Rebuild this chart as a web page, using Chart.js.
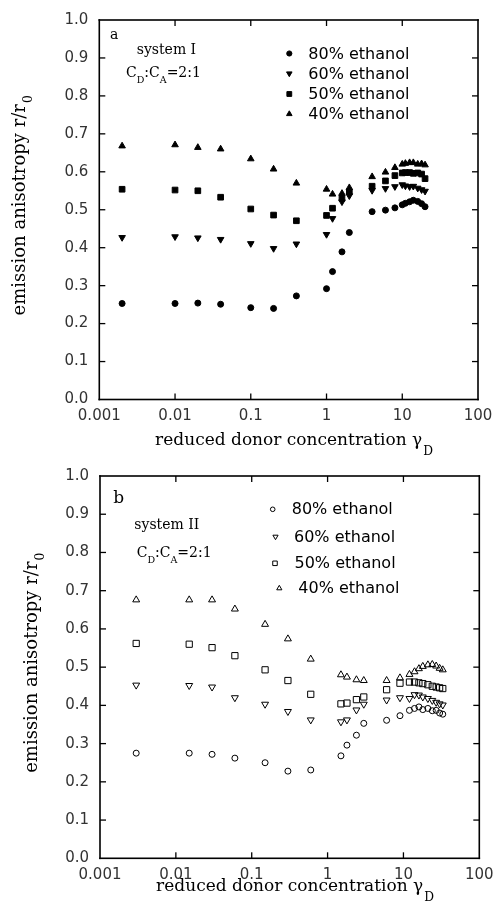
<!DOCTYPE html>
<html><head><meta charset="utf-8">
<script src="https://cdn.jsdelivr.net/npm/chart.js"></script>
<style>
html,body{margin:0;padding:0;background:#fff;width:493px;height:909px;overflow:hidden}
canvas{position:absolute;left:0}
#ca{top:0}
#cb{top:455px}
</style></head><body>
<canvas id="ca" width="493" height="455"></canvas>
<canvas id="cb" width="493" height="454"></canvas>
<script>
// ---------- data ----------
const X_TICKS = [0.001, 0.01, 0.1, 1, 10, 100];
const X_TICK_LABELS = ['0.001', '0.01', '0.1', '1', '10', '100'];
const Y_TICKS = [0, 0.1, 0.2, 0.3, 0.4, 0.5, 0.6, 0.7, 0.8, 0.9, 1.0];
const LEGEND_LABELS = ['80% ethanol', '60% ethanol', '50% ethanol', '40% ethanol'];

// panel a (system I)
const X_A = [0.002, 0.01, 0.02, 0.04, 0.1, 0.2, 0.4, 1, 1.2, 1.6, 2, 4, 6, 8, 10, 11, 12.5, 14, 16, 18, 20];
const A80 = [0.253, 0.253, 0.254, 0.251, 0.242, 0.240, 0.273, 0.292, 0.337, 0.389, 0.440, 0.495, 0.499, 0.505, 0.513, 0.517, 0.521, 0.525, 0.522, 0.516, 0.508];
const A60 = [0.427, 0.429, 0.426, 0.422, 0.411, 0.398, 0.410, 0.435, 0.477, 0.521, 0.537, 0.551, 0.556, 0.561, 0.566, 0.563, 0.561, 0.562, 0.557, 0.553, 0.549];
const A50 = [0.554, 0.552, 0.550, 0.533, 0.502, 0.486, 0.471, 0.485, 0.504, 0.530, 0.547, 0.562, 0.576, 0.590, 0.597, 0.598, 0.598, 0.596, 0.597, 0.594, 0.582];
const A40 = [0.668, 0.671, 0.664, 0.660, 0.634, 0.607, 0.570, 0.554, 0.541, 0.543, 0.558, 0.587, 0.599, 0.611, 0.620, 0.622, 0.624, 0.624, 0.620, 0.621, 0.618];

// panel b (system II)
const X_B = [0.003, 0.015, 0.03, 0.06, 0.15, 0.3, 0.6, 1.5, 1.8, 2.4, 3, 6, 9, 12, 14, 16, 18, 21, 24, 27, 30, 33];
const B80 = [0.275, 0.275, 0.272, 0.262, 0.250, 0.228, 0.231, 0.268, 0.296, 0.322, 0.353, 0.361, 0.373, 0.387, 0.392, 0.396, 0.389, 0.392, 0.386, 0.387, 0.380, 0.377];
const B60 = [0.453, 0.452, 0.448, 0.420, 0.403, 0.384, 0.362, 0.357, 0.362, 0.388, 0.403, 0.414, 0.420, 0.418, 0.428, 0.427, 0.422, 0.418, 0.413, 0.408, 0.404, 0.401];
const B50 = [0.562, 0.560, 0.551, 0.530, 0.493, 0.465, 0.429, 0.404, 0.406, 0.415, 0.422, 0.441, 0.458, 0.461, 0.461, 0.459, 0.457, 0.454, 0.450, 0.448, 0.446, 0.444];
const B40 = [0.676, 0.676, 0.676, 0.652, 0.612, 0.574, 0.521, 0.480, 0.474, 0.467, 0.465, 0.465, 0.472, 0.481, 0.488, 0.496, 0.502, 0.506, 0.507, 0.503, 0.497, 0.493];

// ---------- styling ----------
const SERIF = '"DejaVu Serif", "Liberation Serif", serif';
const SANS = '"DejaVu Sans", "Liberation Sans", sans-serif';
const INK = '#000000';
const NONE = 'rgba(255,255,255,0)';

function series(xs, ys) { return xs.map((x, i) => ({ x: x, y: ys[i] })); }

function richText(ctx, x, y, segs, size, family) {
  let cx = x;
  for (const s of segs) {
    const fs = s.sub ? size * 0.68 : size;
    ctx.font = fs + 'px ' + family;
    ctx.fillText(s.t, cx, y + (s.sub ? size * 0.42 : 0));
    cx += ctx.measureText(s.t).width;
  }
  return cx;
}

function drawMarker(ctx, ds, x, y, r) {
  ctx.save();
  ctx.fillStyle = ds.backgroundColor;
  ctx.strokeStyle = ds.borderColor;
  ctx.lineWidth = ds.borderWidth;
  const opts = { pointStyle: ds.pointStyle, rotation: ds.pointRotation || 0, radius: r, borderWidth: ds.borderWidth };
  if (Chart.helpers && Chart.helpers.drawPoint) {
    Chart.helpers.drawPoint(ctx, opts, x, y);
  }
  ctx.restore();
}

function zeroPad(s) { s.paddingLeft = 0; s.paddingRight = 0; s.paddingTop = 0; s.paddingBottom = 0; }

const decoPlugin = {
  id: 'panelDeco',
  afterDraw(chart, args, o) {
    const ctx = chart.ctx;
    const xs = chart.scales.x, ys = chart.scales.y;
    const left = xs.left, right = xs.right, top = ys.top, bottom = ys.bottom;
    ctx.save();
    ctx.fillStyle = INK;
    // frame
    const w = 1.6;
    ctx.fillRect(left - w / 2, top - w / 2, right - left + w, w);
    ctx.fillRect(left - w / 2, bottom - w / 2, right - left + w, w);
    ctx.fillRect(left - w / 2, top - w / 2, w, bottom - top + w);
    ctx.fillRect(right - w / 2, top - w / 2, w, bottom - top + w);
    // inward ticks on all four sides
    const L = 6, tw = 1.3;
    xs.ticks.forEach(t => {
      const p = xs.getPixelForValue(t.value);
      if (p <= left + 2 || p >= right - 2) return;
      ctx.fillRect(p - tw / 2, bottom - L, tw, L);
      ctx.fillRect(p - tw / 2, top, tw, L);
    });
    ys.ticks.forEach(t => {
      const p = ys.getPixelForValue(t.value);
      if (p <= top + 2 || p >= bottom - 2) return;
      ctx.fillRect(left, p - tw / 2, L, tw);
      ctx.fillRect(right - L, p - tw / 2, L, tw);
    });

    // subscript of x-axis title
    const xt = xs.options.title;
    const xfs = xt.font.size, xlh = xfs * 1.2;
    ctx.font = xfs + 'px ' + SERIF;
    const xw = ctx.measureText(xt.text).width;
    const xcx = (xs.left + xs.right) / 2;
    const xcy = xs.bottom - (xlh / 2 + xt.padding.bottom);
    ctx.textAlign = 'left';
    ctx.textBaseline = 'middle';
    ctx.font = (xfs * 0.72) + 'px ' + SERIF;
    ctx.fillText(o.xSub, xcx + xw / 2 + 1, xcy + xfs * 0.62);
    // subscript of y-axis title (rotated)
    const yt = ys.options.title;
    const yfs = yt.font.size, ylh = yfs * 1.2;
    ctx.font = yfs + 'px ' + SERIF;
    const yw = ctx.measureText(yt.text).width;
    const ycx = ys.left + ylh / 2 + yt.padding.top;
    const ycy = (ys.top + ys.bottom) / 2;
    ctx.save();
    ctx.translate(ycx, ycy);
    ctx.rotate(-Math.PI / 2);
    ctx.font = (yfs * 0.68) + 'px ' + SERIF;
    ctx.fillText(o.ySub, yw / 2 + 1, yfs * 0.42);
    ctx.restore();

    // annotations
    ctx.textAlign = 'left';
    ctx.textBaseline = 'alphabetic';
    o.notes.forEach(n => richText(ctx, n.x, n.y, n.segs, n.size, SERIF));

    // legend
    o.legend.forEach((it, i) => {
      const ds = chart.data.datasets[i];
      drawMarker(ctx, ds, it.mx, it.my, it.r);
      ctx.fillStyle = INK;
      ctx.font = o.legendSize + 'px ' + SANS;
      ctx.textAlign = 'left';
      ctx.textBaseline = 'middle';
      ctx.fillText(ds.label, it.tx, it.my + 1);
    });
    ctx.restore();
  }
};

function makeChart(id, sets, cfg) {
  return new Chart(document.getElementById(id), {
    type: 'scatter',
    data: { datasets: sets },
    plugins: [decoPlugin],
    options: {
      responsive: false,
      animation: false,
      devicePixelRatio: 1,
      layout: { padding: cfg.padding },
      plugins: {
        legend: { display: false },
        tooltip: { enabled: false },
        panelDeco: cfg.deco
      },
      scales: {
        x: {
          type: 'logarithmic',
          position: 'bottom',
          min: 0.001, max: 100,
          afterBuildTicks: s => { s.ticks = X_TICKS.map(v => ({ value: v })); },
          afterFit: s => { s.height = cfg.xHeight; zeroPad(s); },
          grid: { display: false, drawTicks: false },
          border: { display: false },
          ticks: {
            padding: 8, autoSkip: false, maxRotation: 0, minRotation: 0,
            color: '#333', font: { family: SANS, size: 15 },
            callback: v => { const k = X_TICKS.indexOf(v); return k >= 0 ? X_TICK_LABELS[k] : String(v); }
          },
          title: {
            display: true, text: 'reduced donor concentration γ', color: INK,
            font: { family: SERIF, size: 17, lineHeight: 1.2 },
            padding: { top: 0, bottom: cfg.xTitlePad }
          }
        },
        y: {
          type: 'linear',
          position: 'left',
          min: 0, max: 1,
          afterBuildTicks: s => { s.ticks = Y_TICKS.map(v => ({ value: v })); },
          afterFit: s => { s.width = cfg.yWidth; zeroPad(s); },
          grid: { display: false, drawTicks: false },
          border: { display: false },
          ticks: {
            padding: 11, color: '#333', font: { family: SANS, size: 15 },
            callback: v => Number(v).toFixed(1)
          },
          title: {
            display: true, text: 'emission anisotropy r/r', color: INK,
            font: { family: SERIF, size: 18, lineHeight: 1.2 },
            padding: { top: cfg.yTitlePad, bottom: 0 }
          }
        }
      }
    }
  });
}

function ds(label, data, style, r, filled, rot) {
  return {
    label: label, data: data, pointStyle: style, pointRadius: r, pointHoverRadius: r,
    pointRotation: rot || 0,
    backgroundColor: filled ? INK : NONE, borderColor: INK, borderWidth: 1
  };
}

const CD_CA = [{ t: 'C' }, { t: 'D', sub: true }, { t: ':C' }, { t: 'A', sub: true }, { t: '=2:1' }];

makeChart('ca', [
  ds(LEGEND_LABELS[0], series(X_A, A80), 'circle', 3, true),
  ds(LEGEND_LABELS[1], series(X_A, A60), 'triangle', 3.8, true, 180),
  ds(LEGEND_LABELS[2], series(X_A, A50), 'rect', 4, true),
  ds(LEGEND_LABELS[3], series(X_A, A40), 'triangle', 3.8, true)
], {
  padding: { left: 0, top: 20, right: 15, bottom: 0 },
  xHeight: 55.5, yWidth: 99.3, xTitlePad: 4, yTitlePad: 10,
  deco: {
    xSub: 'D', ySub: '0', legendSize: 16,
    notes: [
      { x: 110, y: 38.5, segs: [{ t: 'a' }], size: 14 },
      { x: 136.7, y: 54, segs: [{ t: 'system I' }], size: 14 },
      { x: 126, y: 77.3, segs: CD_CA, size: 14 }
    ],
    legend: [
      { mx: 289.3, my: 53.5, tx: 308.3, r: 2.6 },
      { mx: 289.3, my: 73.5, tx: 308.3, r: 3.2 },
      { mx: 289.3, my: 94, tx: 308.3, r: 3.4 },
      { mx: 289.3, my: 114, tx: 308.3, r: 3.2 }
    ]
  }
});

makeChart('cb', [
  ds(LEGEND_LABELS[0], series(X_B, B80), 'circle', 3, false),
  ds(LEGEND_LABELS[1], series(X_B, B60), 'triangle', 4, false, 180),
  ds(LEGEND_LABELS[2], series(X_B, B50), 'rect', 4.4, false),
  ds(LEGEND_LABELS[3], series(X_B, B40), 'triangle', 4, false)
], {
  padding: { left: 0, top: 21, right: 13.7, bottom: 0 },
  xHeight: 50.7, yWidth: 100, xTitlePad: 12, yTitlePad: 22,
  deco: {
    xSub: 'D', ySub: '0', legendSize: 16,
    notes: [
      { x: 113.3, y: 48, segs: [{ t: 'b' }], size: 17 },
      { x: 134.3, y: 73.5, segs: [{ t: 'system II' }], size: 14 },
      { x: 136.7, y: 102.3, segs: CD_CA, size: 14 }
    ],
    legend: [
      { mx: 272.7, my: 54.3, tx: 291.7, r: 2.3 },
      { mx: 275.5, my: 81.7, tx: 294, r: 3 },
      { mx: 275, my: 108.3, tx: 294.5, r: 3.2 },
      { mx: 279.3, my: 133.3, tx: 298.3, r: 3 }
    ]
  }
});
</script>
</body></html>
